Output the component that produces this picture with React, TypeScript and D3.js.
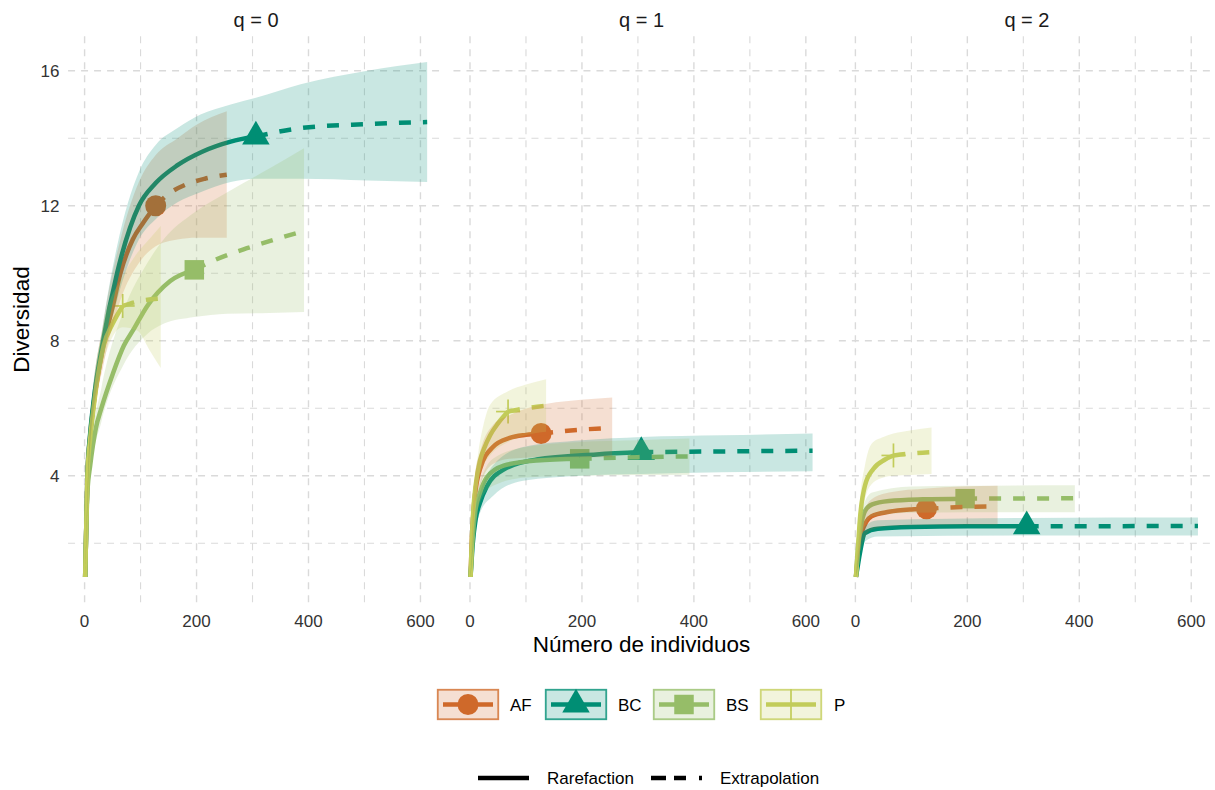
import React from 'react';
import * as d3 from 'd3';

type Pt = [number, number];
type Band = [number, number, number];

// Assemblages, colours and observed sample sizes
const assemblages = ['AF', 'BC', 'BS', 'P'];
const palette = ['#CF6A2B', '#008F74', '#96BE69', '#C3CD5A'];
const sampleSizes = [127, 306, 196, 68];
const orderLabels = ['q = 0', 'q = 1', 'q = 2'];

const xMajor = [0, 200, 400, 600];
const xMinor = [100, 300, 500];
const yMajor = [4, 8, 12, 16];
const yMinor = [2, 6, 10, 14];

// Estimated diversity by number of individuals: [m, estimate]
// q = 0
const AF_q0: Pt[] = [[1, 1], [5, 4.0], [10, 5.2], [16, 6.1], [34, 7.9], [50, 9.0], [64, 10.0], [86, 11.0], [105, 11.5], [127, 12.0], [150, 12.35], [180, 12.62], [215, 12.8], [254, 12.92]];
const BC_q0: Pt[] = [[1, 1], [5, 4.0], [10, 5.25], [16, 6.2], [32, 7.9], [58, 10.0], [97, 12.0], [127, 12.67], [166, 13.2], [210, 13.6], [261, 13.9], [306, 14.05], [386, 14.3], [505, 14.42], [612, 14.48]];
const BS_q0: Pt[] = [[1, 1], [5, 3.5], [10, 4.3], [20, 5.4], [30, 6.0], [50, 7.0], [70, 7.85], [88, 8.35], [112, 9.03], [153, 9.77], [196, 10.1], [231, 10.38], [290, 10.74], [340, 11.0], [392, 11.25]];
const P_q0: Pt[] = [[1, 1], [5, 4.0], [10, 5.1], [16, 6.0], [34, 7.85], [50, 8.5], [68, 9.03], [100, 9.18], [136, 9.25]];

// q = 1
const AF_q1: Pt[] = [[1, 1], [3, 2.0], [6, 2.9], [9, 3.45], [18, 4.2], [41, 4.85], [71, 5.12], [100, 5.21], [127, 5.25], [180, 5.34], [254, 5.42]];
const BC_q1: Pt[] = [[1, 1], [5, 2.0], [10, 2.7], [18, 3.2], [30, 3.68], [60, 4.18], [119, 4.48], [226, 4.63], [306, 4.7], [450, 4.72], [612, 4.74]];
const BS_q1: Pt[] = [[1, 1], [5, 2.2], [10, 3.0], [18, 3.5], [30, 3.95], [60, 4.3], [119, 4.45], [196, 4.5], [300, 4.55], [392, 4.57]];
const P_q1: Pt[] = [[1, 1], [3, 2.0], [6, 3.0], [10, 3.7], [18, 4.45], [25, 4.8], [36, 5.2], [50, 5.55], [68, 5.9], [100, 6.0], [136, 6.07]];

// q = 2
const AF_q2: Pt[] = [[1, 1], [5, 1.7], [11, 2.3], [29, 2.8], [60, 2.93], [100, 3.0], [127, 3.02], [190, 3.07], [254, 3.09]];
const BC_q2: Pt[] = [[1, 1], [4, 1.3], [8, 1.7], [17, 2.3], [40, 2.43], [100, 2.48], [200, 2.5], [306, 2.5], [612, 2.51]];
const BS_q2: Pt[] = [[1, 1], [5, 1.9], [10, 2.5], [17, 2.95], [30, 3.15], [60, 3.25], [120, 3.3], [196, 3.32], [392, 3.33]];
const P_q2: Pt[] = [[1, 1], [4, 1.7], [8, 2.7], [17, 3.7], [32, 4.2], [53, 4.48], [68, 4.6], [100, 4.66], [136, 4.7]];

// 95% confidence bands: [m, lower, upper]
const AF_q0_ci: Band[] = [[1, 1, 1], [10, 4.9, 5.5], [34, 7.3, 8.6], [64, 9.2, 11.0], [97, 10.3, 12.7], [127, 10.8, 13.5], [166, 11.0, 14.0], [200, 11.05, 14.4], [254, 11.05, 14.8]];
const BC_q0_ci: Band[] = [[1, 1, 1], [10, 4.95, 5.55], [32, 7.4, 8.4], [58, 9.2, 10.8], [97, 11.0, 13.0], [127, 11.6, 13.8], [166, 12.1, 14.3], [207, 12.4, 14.7], [261, 12.7, 15.0], [306, 12.8, 15.2], [386, 12.8, 15.6], [505, 12.75, 16.0], [612, 12.7, 16.26]];
const BS_q0_ci: Band[] = [[1, 1, 1], [10, 4.0, 4.6], [30, 5.6, 6.6], [70, 7.3, 8.9], [112, 8.2, 10.3], [141, 8.5, 11.0], [196, 8.7, 11.8], [255, 8.8, 12.4], [330, 8.82, 13.1], [392, 8.85, 13.7]];
const P_q0_ci: Band[] = [[1, 1, 1], [10, 4.8, 5.4], [34, 7.4, 8.5], [68, 8.4, 9.9], [94, 8.3, 10.6], [115, 7.75, 11.0], [136, 7.19, 11.4]];

const AF_q1_ci: Band[] = [[1, 1, 1], [9, 3.1, 4.0], [18, 3.7, 4.7], [41, 4.35, 5.5], [71, 4.5, 5.8], [127, 4.55, 6.1], [180, 4.55, 6.22], [254, 4.55, 6.32]];
const BC_q1_ci: Band[] = [[1, 1, 1], [10, 2.4, 3.0], [18, 2.9, 3.5], [41, 3.4, 4.3], [95, 3.85, 4.85], [200, 4.0, 5.05], [306, 4.05, 5.15], [450, 4.1, 5.2], [612, 4.13, 5.25]];
const BS_q1_ci: Band[] = [[1, 1, 1], [10, 2.7, 3.3], [18, 3.2, 3.8], [41, 3.7, 4.5], [100, 3.95, 4.85], [196, 4.0, 5.0], [300, 4.02, 5.05], [392, 4.03, 5.1]];
const P_q1_ci: Band[] = [[1, 1, 1], [6, 2.7, 3.3], [15, 3.8, 4.7], [24, 4.3, 5.5], [36, 4.6, 6.1], [68, 5.0, 6.5], [100, 5.2, 6.7], [136, 5.3, 6.86]];

const AF_q2_ci: Band[] = [[1, 1, 1], [11, 1.9, 2.7], [29, 2.4, 3.3], [60, 2.5, 3.5], [127, 2.54, 3.62], [254, 2.55, 3.7]];
const BC_q2_ci: Band[] = [[1, 1, 1], [8, 1.5, 1.9], [17, 2.05, 2.5], [40, 2.2, 2.68], [306, 2.23, 2.75], [612, 2.23, 2.76]];
const BS_q2_ci: Band[] = [[1, 1, 1], [10, 2.1, 2.9], [30, 2.8, 3.5], [100, 2.9, 3.68], [196, 2.92, 3.7], [392, 2.92, 3.72]];
const P_q2_ci: Band[] = [[1, 1, 1], [8, 2.2, 3.2], [17, 3.3, 4.3], [29, 3.75, 4.95], [50, 3.95, 5.15], [68, 4.0, 5.25], [100, 4.02, 5.35], [136, 4.05, 5.43]];

const curvesByOrder: Pt[][][] = [
  [AF_q0, BC_q0, BS_q0, P_q0],
  [AF_q1, BC_q1, BS_q1, P_q1],
  [AF_q2, BC_q2, BS_q2, P_q2],
];
const bandsByOrder: Band[][][] = [
  [AF_q0_ci, BC_q0_ci, BS_q0_ci, P_q0_ci],
  [AF_q1_ci, BC_q1_ci, BS_q1_ci, P_q1_ci],
  [AF_q2_ci, BC_q2_ci, BS_q2_ci, P_q2_ci],
];

// Layout
const W = 1215;
const H = 790;
const PANEL_W = 376.2;
const PANEL_STEP = 385.4;
const PANEL_X0 = 68.06;
const PLOT_TOP = 36.3;
const PLOT_BOTTOM = 602.7;
const FONT = "'Liberation Sans', Arial, Helvetica, sans-serif";
const BAND_ALPHA = 0.21;
const EXT_DASH = '12,12';

function Marker({ kind, cx, cy, color, scale = 1 }: { kind: number; cx: number; cy: number; color: string; scale?: number }) {
  if (kind === 0) return <circle cx={cx} cy={cy} r={10.5 * scale} fill={color} />;
  if (kind === 1) {
    const xc = 10.2 * scale;
    const pts = [
      [cx, cy - 1.555 * xc],
      [cx + 1.347 * xc, cy + 0.778 * xc],
      [cx - 1.347 * xc, cy + 0.778 * xc],
    ];
    return <polygon points={pts.map((p) => p.join(',')).join(' ')} fill={color} />;
  }
  if (kind === 2) {
    const s = 19.5 * scale;
    return <rect x={cx - s / 2} y={cy - s / 2} width={s} height={s} fill={color} />;
  }
  const a = 12 * scale;
  return (
    <g stroke={color} strokeWidth={1.7}>
      <line x1={cx - a} x2={cx + a} y1={cy} y2={cy} />
      <line x1={cx} x2={cx} y1={cy - a} y2={cy + a} />
    </g>
  );
}

export default function App() {
  const x = d3.scaleLinear().domain([-29.55, 642.55]).range([0, PANEL_W]);
  const y = d3.scaleLinear().domain([0.237, 17.02]).range([PLOT_BOTTOM, PLOT_TOP]);

  const line = d3
    .line<Pt>()
    .x((d) => x(d[0]))
    .y((d) => y(d[1]))
    .curve(d3.curveMonotoneX);
  const area = d3
    .area<Band>()
    .x((d) => x(d[0]))
    .y0((d) => y(d[1]))
    .y1((d) => y(d[2]))
    .curve(d3.curveMonotoneX);

  const gridColor = '#DADADA';
  const gridDash = '7,6';

  const legendKeys = [437, 545, 653, 760];
  const legendLabels = [510, 618, 726, 834];

  return (
    <svg
      width={W}
      height={H}
      style={{ position: 'absolute', left: 0, top: 0, background: '#fff' }}
      fontFamily={FONT}
    >
      <rect width={W} height={H} fill="#fff" />

      {orderLabels.map((label, qi) => {
        const left = PANEL_X0 + qi * PANEL_STEP;
        const curves = curvesByOrder[qi];
        const bands = bandsByOrder[qi];
        return (
          <g key={label} transform={`translate(${left},0)`}>
            {/* grid */}
            {xMinor.map((v) => (
              <line key={`xm${v}`} x1={x(v)} x2={x(v)} y1={PLOT_TOP} y2={PLOT_BOTTOM} stroke={gridColor} strokeWidth={1.1} strokeDasharray={gridDash} />
            ))}
            {yMinor.map((v) => (
              <line key={`ym${v}`} x1={0} x2={PANEL_W} y1={y(v)} y2={y(v)} stroke={gridColor} strokeWidth={1.1} strokeDasharray={gridDash} />
            ))}
            {xMajor.map((v) => (
              <line key={`xM${v}`} x1={x(v)} x2={x(v)} y1={PLOT_TOP} y2={PLOT_BOTTOM} stroke={gridColor} strokeWidth={1.4} strokeDasharray={gridDash} />
            ))}
            {yMajor.map((v) => (
              <line key={`yM${v}`} x1={0} x2={PANEL_W} y1={y(v)} y2={y(v)} stroke={gridColor} strokeWidth={1.4} strokeDasharray={gridDash} />
            ))}

            {/* observed points */}
            {curves.map((c, si) => {
              const obs = c.find((d) => d[0] === sampleSizes[si])!;
              return <Marker key={`pt${si}`} kind={si} cx={x(obs[0])} cy={y(obs[1])} color={palette[si]} />;
            })}

            {/* rarefaction and extrapolation curves */}
            {curves.map((c, si) => {
              const n = sampleSizes[si];
              const rare = c.filter((d) => d[0] <= n);
              const ext = c.filter((d) => d[0] >= n);
              return (
                <g key={`ln${si}`} fill="none" stroke={palette[si]} strokeWidth={4.5}>
                  <path d={line(rare) || ''} />
                  <path d={line(ext) || ''} strokeDasharray={EXT_DASH} />
                </g>
              );
            })}

            {/* confidence bands */}
            {bands.map((b, si) => (
              <path key={`ci${si}`} d={area(b) || ''} fill={palette[si]} fillOpacity={BAND_ALPHA} stroke="none" />
            ))}

            {/* strip title */}
            <text x={PANEL_W / 2} y={27} textAnchor="middle" fontSize={20} fill="#1A1A1A">
              {label}
            </text>

            {/* x tick labels */}
            {xMajor.map((v) => (
              <text key={`xt${v}`} x={x(v)} y={626.5} textAnchor="middle" fontSize={17} fill="#333">
                {v}
              </text>
            ))}
          </g>
        );
      })}

      {/* y tick labels */}
      {yMajor.map((v) => (
        <text key={`yt${v}`} x={59.5} y={y(v) + 6.2} textAnchor="end" fontSize={17} fill="#333">
          {v}
        </text>
      ))}

      {/* axis titles */}
      <text x={PANEL_X0 + (2 * PANEL_STEP + PANEL_W) / 2} y={652} textAnchor="middle" fontSize={22.5} fill="#000">
        Número de individuos
      </text>
      <text transform={`translate(29,${(PLOT_TOP + PLOT_BOTTOM) / 2}) rotate(-90)`} textAnchor="middle" fontSize={22.5} fill="#000">
        Diversidad
      </text>

      {/* assemblage legend */}
      {assemblages.map((name, si) => {
        const kx = legendKeys[si];
        const ky = 689;
        const kw = 62;
        const kh = 31;
        return (
          <g key={name}>
            <rect x={kx} y={ky} width={kw} height={kh} fill="#fff" />
            <line x1={kx + 6} x2={kx + kw - 6} y1={ky + kh / 2} y2={ky + kh / 2} stroke={palette[si]} strokeWidth={4.5} />
            <Marker kind={si} cx={kx + kw / 2} cy={ky + kh / 2} color={palette[si]} scale={si === 3 ? 1.3 : 1} />
            <rect
              x={kx + 0.75}
              y={ky + 0.75}
              width={kw - 1.5}
              height={kh - 1.5}
              fill={palette[si]}
              fillOpacity={BAND_ALPHA}
              stroke={palette[si]}
              strokeOpacity={0.8}
              strokeWidth={1.8}
            />
            <text x={legendLabels[si]} y={710.5} fontSize={17} fill="#000">
              {name}
            </text>
          </g>
        );
      })}

      {/* line type legend */}
      <line x1={478} x2={529} y1={778} y2={778} stroke="#000" strokeWidth={4.5} />
      <text x={547} y={784} fontSize={17} fill="#000">
        Rarefaction
      </text>
      <line x1={651} x2={704} y1={778} y2={778} stroke="#000" strokeWidth={4.5} strokeDasharray="15,8,12,13,3" />
      <text x={720} y={784} fontSize={17} fill="#000">
        Extrapolation
      </text>
    </svg>
  );
}
